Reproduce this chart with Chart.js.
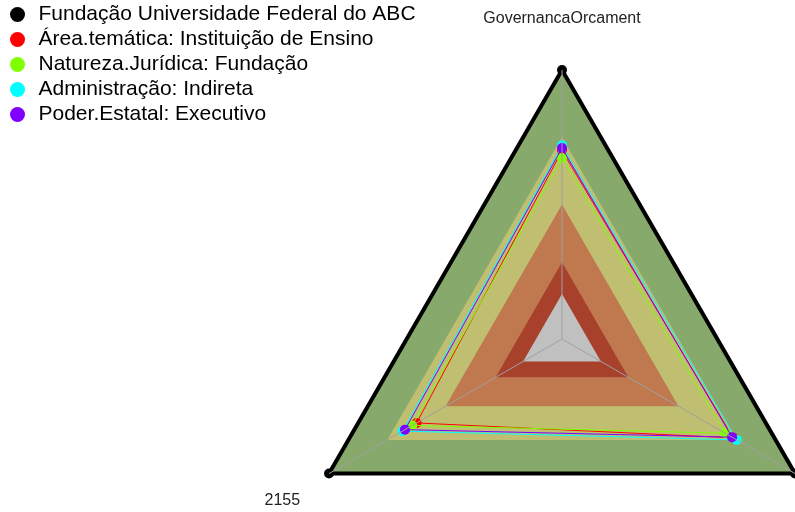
<!DOCTYPE html>
<html>
<head>
<meta charset="utf-8">
<script src="https://cdn.jsdelivr.net/npm/chart.js@4"></script>
<style>
  html, body { margin: 0; padding: 0; background: #ffffff; overflow: hidden; }
  #wrap { width: 795px; height: 512px; }
</style>
</head>
<body>
<div id="wrap"><canvas id="radar"></canvas></div>
<script>
// Axis labels (clockwise from the top; the right one falls outside the picture)
const axisLabels = ["GovernancaOrcament", "", "2155"];

// Series names and values on each axis (0..1)
const seriesNames = [
  "Fundação Universidade Federal do ABC",
  "Área.temática: Instituição de Ensino",
  "Natureza.Jurídica: Fundação",
  "Administração: Indireta",
  "Poder.Estatal: Executivo",
];
const ufabc = [1, 1, 1];
const areaTematica = [0.70, 0.735, 0.624];
const naturezaJuridica = [0.673, 0.70, 0.643];
const administracao = [0.72, 0.75, 0.685];
const poderEstatal = [0.71, 0.73, 0.674];
const seriesColors = ["#000000", "#ff0000", "#80ff00", "#00ffff", "#8000ff"];

// Background bands, outer to inner
const bandLevels = [1, 0.75, 0.5, 0.285, 0.167];
const bandColors = ["#87a96b", "#c0bf71", "#c0794f", "#a8412c", "#c0c0c0"];

const seriesValues = [ufabc, areaTematica, naturezaJuridica, administracao, poderEstatal];

// series first (legend order), bands after; "order" fixes the drawing order
const datasets = seriesValues.map((vals, i) => ({
  label: seriesNames[i],
  data: vals,
  borderColor: seriesColors[i],
  backgroundColor: seriesColors[i],
  pointBackgroundColor: seriesColors[i],
  pointBorderColor: seriesColors[i],
  borderWidth: i === 0 ? 4 : 1,
  pointRadius: 5,
  pointBorderWidth: 0,
  fill: false,
  clip: false,
  order: 5 - i,
}));

bandLevels.forEach((lvl, i) => {
  datasets.push({
    label: "band" + i,
    data: axisLabels.map(() => lvl),
    backgroundColor: bandColors[i],
    borderWidth: 0,
    pointRadius: 0,
    fill: "origin",
    clip: false,
    order: 10 - i,
  });
});

// axis titles drawn at a fixed distance past the outer triangle
const axisTitles = {
  id: "axisTitles",
  afterDraw(chart) {
    const scale = chart.scales.r;
    const ctx = chart.ctx;
    ctx.save();
    ctx.font = "16px 'Liberation Sans', Arial, sans-serif";
    ctx.fillStyle = "#222222";
    ctx.textAlign = "center";
    ctx.textBaseline = "middle";
    axisLabels.forEach((txt, i) => {
      const d = i === 0 ? 51 : 54;
      const p = scale.getPointPosition(i, scale.drawingArea + d);
      ctx.fillText(txt, p.x, p.y);
    });
    ctx.restore();
  },
};

Chart.defaults.font.family = "'Liberation Sans', Arial, sans-serif";

new Chart(document.getElementById("radar"), {
  type: "radar",
  data: { labels: axisLabels, datasets: datasets },
  plugins: [axisTitles],
  options: {
    responsive: true,
    maintainAspectRatio: false,
    animation: false,
    layout: { padding: { left: 3, top: 2, right: 0, bottom: 0 } },
    elements: { line: { tension: 0 } },
    scales: {
      r: {
        min: 0,
        max: 1,
        ticks: { display: false },
        grid: { display: false, z: 1 },
        angleLines: { display: true, color: "#a0a0a0", lineWidth: 1 },
        pointLabels: { display: false },
        // put the triangle where the reference has it
        afterFit: (scale) => {
          scale.xCenter = 562;
          scale.yCenter = 339;
          scale.drawingArea = 269;
        },
      },
    },
    plugins: {
      tooltip: { enabled: false },
      legend: {
        position: "chartArea",
        align: "start",
        labels: {
          usePointStyle: true,
          pointStyle: "circle",
          boxHeight: 10.6,
          padding: 4,
          color: "#000000",
          font: { size: 21 },
          filter: (item) => item.datasetIndex < seriesNames.length,
          sort: (a, b) => a.datasetIndex - b.datasetIndex,
        },
      },
    },
  },
});
</script>
</body>
</html>
